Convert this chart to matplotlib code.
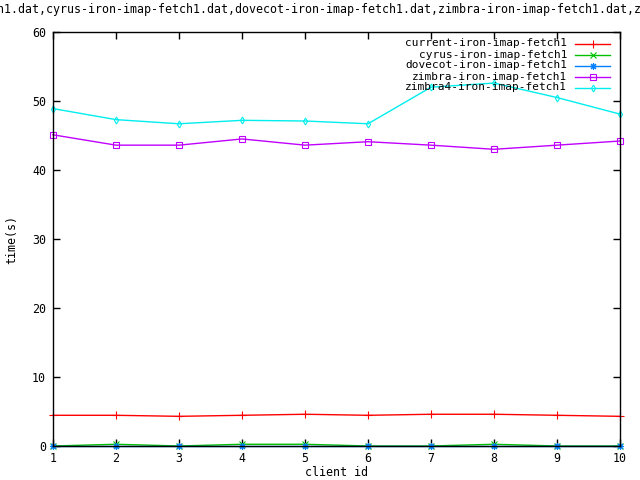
import matplotlib
matplotlib.use("Agg")
import matplotlib.pyplot as plt
from matplotlib.lines import Line2D

client_ids = [1, 2, 3, 4, 5, 6, 7, 8, 9, 10]
current = [4.45, 4.45, 4.3, 4.45, 4.6, 4.45, 4.6, 4.6, 4.45, 4.3]
cyrus = [0.0, 0.25, 0.0, 0.25, 0.25, 0.0, 0.0, 0.25, 0.0, 0.0]
dovecot = [0.0, 0.0, 0.0, 0.0, 0.0, 0.0, 0.0, 0.0, 0.0, 0.0]
zimbra = [45.1, 43.6, 43.6, 44.5, 43.6, 44.1, 43.6, 43.0, 43.6, 44.2]
zimbra4 = [48.9, 47.3, 46.7, 47.2, 47.1, 46.7, 52.0, 52.6, 50.5, 48.1]

names = ["current-iron-imap-fetch1", "cyrus-iron-imap-fetch1",
         "dovecot-iron-imap-fetch1", "zimbra-iron-imap-fetch1",
         "zimbra4-iron-imap-fetch1"]
series = [current, cyrus, dovecot, zimbra, zimbra4]
colors = ["#ff0000", "#00c000", "#0080ff", "#c000ff", "#00eeee"]
markers = ["+", "x", (8, 2, 0), "s", "d"]
msizes = [6, 5, 5, 4.5, 3.5]

FONT = "DejaVu Sans Mono"
FS = 8.4
plt.rcParams["font.family"] = FONT

fig = plt.figure(figsize=(6.4, 4.8), dpi=100)
ax = fig.add_axes([53 / 640, 34 / 480, 567 / 640, 414 / 480])

for ys, col, mk, ms in zip(series, colors, markers, msizes):
    ax.plot(client_ids, ys, color=col, lw=1.0, marker=mk, ms=ms,
            mfc="none", mec=col, mew=0.8, clip_on=False)

ax.set_xlim(1, 10)
ax.set_ylim(0, 60)
ax.set_xticks(client_ids)
ax.set_yticks(range(0, 61, 10))
ax.tick_params(direction="in", length=5, width=1, top=True, right=True,
               labelsize=FS, pad=5)
ax.tick_params(axis="x", pad=4)
for s in ax.spines.values():
    s.set_linewidth(1.0)

ax.set_xlabel("client id", fontsize=FS, labelpad=1)
ax.set_ylabel("time(s)", fontsize=FS, labelpad=10)

title = ",".join(n + ".dat" for n in names)
fig.text(337 / 640, 1 - 9 / 480, title, ha="center", va="center", fontsize=FS)

# gnuplot style key: right-aligned text, sample line to the right
for i, (n, col, mk, ms) in enumerate(zip(names, colors, markers, msizes)):
    yp = 1 - (43.5 + 11 * i - 32) / 414
    ax.text((567 - 53) / 567, yp, n, transform=ax.transAxes, ha="right",
            va="center", fontsize=8)
    ax.add_line(Line2D([(575 - 53) / 567, (610 - 53) / 567], [yp, yp],
                       transform=ax.transAxes, color=col, lw=1.0))
    ax.add_line(Line2D([(592.5 - 53) / 567], [yp], transform=ax.transAxes,
                       color=col, marker=mk, ms=ms, mfc="none", mew=0.8))

fig.savefig("out.png", dpi=100)
